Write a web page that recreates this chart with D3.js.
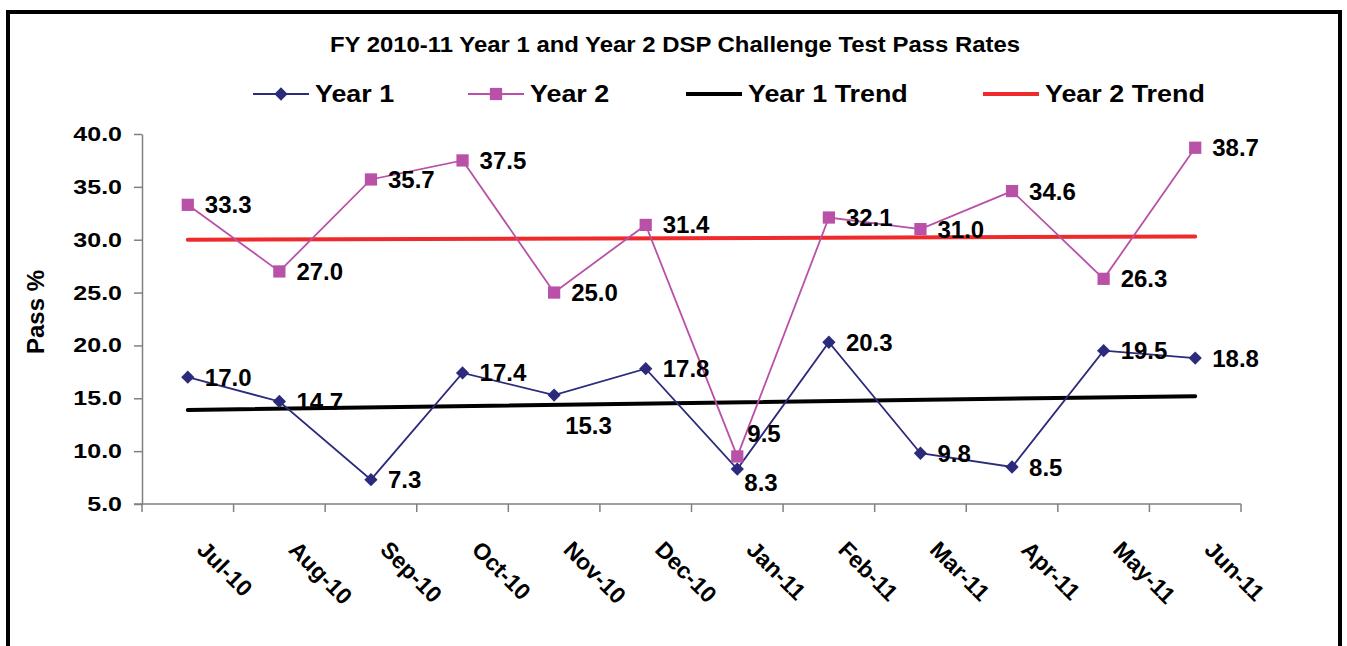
<!DOCTYPE html>
<html>
<head>
<meta charset="utf-8">
<script src="https://cdn.jsdelivr.net/npm/d3@7"></script>
<style>
  body { margin: 0; background: #fff; }
  text { font-family: "Liberation Sans", Arial, sans-serif; font-weight: bold; fill: #000; }
</style>
</head>
<body>
<div id="chart"></div>
<script>
var months = ["Jul-10", "Aug-10", "Sep-10", "Oct-10", "Nov-10", "Dec-10",
              "Jan-11", "Feb-11", "Mar-11", "Apr-11", "May-11", "Jun-11"];
var year1 = [17.0, 14.7, 7.3, 17.4, 15.3, 17.8, 8.3, 20.3, 9.8, 8.5, 19.5, 18.8];
var year2 = [33.3, 27.0, 35.7, 37.5, 25.0, 31.4, 9.5, 32.1, 31.0, 34.6, 26.3, 38.7];
// trend end points (first month, last month)
var year1Trend = [13.9, 15.2];
var year2Trend = [30.0, 30.3];
var yTicks = [5, 10, 15, 20, 25, 30, 35, 40];

var svgWidth = 1347;
var svgHeight = 646;

var margin = { top: 134, right: 106, bottom: 142, left: 142 };
var width = svgWidth - margin.left - margin.right;
var height = svgHeight - margin.top - margin.bottom;

var navy = "#2b2a7b";
var orchid = "#b851a7";
var red = "#ee2a2a";

var svg = d3.select("#chart")
  .append("svg")
  .attr("width", svgWidth)
  .attr("height", svgHeight);

// outer frame
svg.append("rect")
  .attr("x", 8).attr("y", 12)
  .attr("width", 1332).attr("height", 700)
  .attr("fill", "none")
  .attr("stroke", "#000")
  .attr("stroke-width", 4);

// title is a bit wider than the font, stretch it
svg.append("text")
  .attr("x", 675 / 1.087).attr("y", 52)
  .attr("transform", "scale(1.087,1)")
  .attr("text-anchor", "middle")
  .style("font-size", "22px")
  .text("FY 2010-11 Year 1 and Year 2 DSP Challenge Test Pass Rates");

var chartGroup = svg.append("g")
  .attr("transform", `translate(${margin.left}, ${margin.top})`);

var xScale = d3.scaleBand().domain(months).range([0, width]);
var yScale = d3.scaleLinear().domain([5, 40]).range([height, 0]);
var xc = function(m) { return xScale(m) + xScale.bandwidth() / 2; };

// y axis
var leftAxis = d3.axisLeft(yScale)
  .tickValues(yTicks)
  .tickFormat(d3.format(".1f"))
  .tickSize(8)
  .tickSizeOuter(0);

var yAxisG = chartGroup.append("g").call(leftAxis);
yAxisG.select(".domain").attr("stroke", "#808080").attr("stroke-width", 1.5);
yAxisG.selectAll(".tick line").attr("stroke", "#808080").attr("stroke-width", 1.5);
yAxisG.selectAll(".tick text")
  .attr("x", -20 / 1.22)
  .attr("transform", "scale(1.22,1)")
  .style("font-size", "20.5px")
  .style("font-family", "'Liberation Sans', Arial, sans-serif")
  .style("font-weight", "bold")
  .attr("fill", "#000");

// x axis
chartGroup.append("line")
  .attr("x1", -8).attr("x2", width)
  .attr("y1", height).attr("y2", height)
  .attr("stroke", "#808080").attr("stroke-width", 1.5);

chartGroup.selectAll(".xtick")
  .data(months.concat(["end"]))
  .enter()
  .append("line")
  .attr("class", "xtick")
  .attr("x1", function(d) { return d === "end" ? width : xScale(d); })
  .attr("x2", function(d) { return d === "end" ? width : xScale(d); })
  .attr("y1", height).attr("y2", height + 8)
  .attr("stroke", "#808080").attr("stroke-width", 1.5);

chartGroup.selectAll(".xlabel")
  .data(months)
  .enter()
  .append("text")
  .attr("class", "xlabel")
  .attr("transform", function(d) { return `translate(${xc(d) + 8}, ${height + 47}) rotate(45)`; })
  .style("font-size", "23px")
  .text(function(d) { return d; });

// y axis title
chartGroup.append("text")
  .attr("transform", "rotate(-90)")
  .attr("x", 0 - (312 - margin.top))
  .attr("y", 0 - margin.left + 44)
  .attr("text-anchor", "middle")
  .style("font-size", "24px")
  .text("Pass %");

// trend lines
function drawTrend(vals, color) {
  chartGroup.append("line")
    .attr("x1", xc(months[0])).attr("y1", yScale(vals[0]))
    .attr("x2", xc(months[months.length - 1])).attr("y2", yScale(vals[1]))
    .attr("stroke", color).attr("stroke-width", 4)
    .attr("stroke-linecap", "round");
}
drawTrend(year1Trend, "#000");
drawTrend(year2Trend, red);

var lineGen = d3.line()
  .x(function(d, i) { return xc(months[i]); })
  .y(function(d) { return yScale(d); });

chartGroup.append("path")
  .datum(year2)
  .attr("d", lineGen)
  .attr("fill", "none")
  .attr("stroke", orchid)
  .attr("stroke-width", 1.8);

chartGroup.append("path")
  .datum(year1)
  .attr("d", lineGen)
  .attr("fill", "none")
  .attr("stroke", navy)
  .attr("stroke-width", 1.8);

var diamond = d3.symbol().type(d3.symbolSquare).size(88);
var square = d3.symbol().type(d3.symbolSquare).size(150);

chartGroup.selectAll(".m2")
  .data(year2)
  .enter()
  .append("path")
  .attr("class", "m2")
  .attr("d", square)
  .attr("transform", function(d, i) { return `translate(${xc(months[i])}, ${yScale(d)})`; })
  .attr("fill", orchid);

chartGroup.selectAll(".m1")
  .data(year1)
  .enter()
  .append("path")
  .attr("class", "m1")
  .attr("d", diamond)
  .attr("transform", function(d, i) { return `translate(${xc(months[i])}, ${yScale(d)}) rotate(45)`; })
  .attr("fill", navy);

// label placement exceptions
var labelShift = {
  "y1-4": [11, 39],
  "y1-6": [7, 22],
  "y2-6": [10, -14]
};

function drawLabels(vals, key) {
  chartGroup.selectAll(".lbl-" + key)
    .data(vals)
    .enter()
    .append("text")
    .attr("class", "lbl-" + key)
    .attr("x", function(d, i) {
      var s = labelShift[key + "-" + i];
      return xc(months[i]) + (s ? s[0] : 17);
    })
    .attr("y", function(d, i) {
      var s = labelShift[key + "-" + i];
      return yScale(d) + (s ? s[1] : 8.5);
    })
    .style("font-size", "24px")
    .text(function(d) { return d3.format(".1f")(d); });
}
drawLabels(year1, "y1");
drawLabels(year2, "y2");

// legend
var legendItems = [
  { name: "Year 1", x: 253, color: navy, w: 1.8, marker: "diamond" },
  { name: "Year 2", x: 468, color: orchid, w: 1.8, marker: "square" },
  { name: "Year 1 Trend", x: 686, color: "#000", w: 4, marker: null },
  { name: "Year 2 Trend", x: 983, color: red, w: 4, marker: null }
];

var legend = svg.append("g");
legendItems.forEach(function(item) {
  legend.append("line")
    .attr("x1", item.x).attr("x2", item.x + 56)
    .attr("y1", 94).attr("y2", 94)
    .attr("stroke", item.color).attr("stroke-width", item.w);
  if (item.marker === "diamond") {
    legend.append("path")
      .attr("d", diamond)
      .attr("transform", `translate(${item.x + 28}, 94) rotate(45)`)
      .attr("fill", item.color);
  } else if (item.marker === "square") {
    legend.append("path")
      .attr("d", square)
      .attr("transform", `translate(${item.x + 28}, 94)`)
      .attr("fill", item.color);
  }
  legend.append("text")
    .attr("x", (item.x + 62) / 1.12).attr("y", 102)
    .attr("transform", "scale(1.12,1)")
    .style("font-size", "24px")
    .text(item.name);
});
</script>
</body>
</html>
